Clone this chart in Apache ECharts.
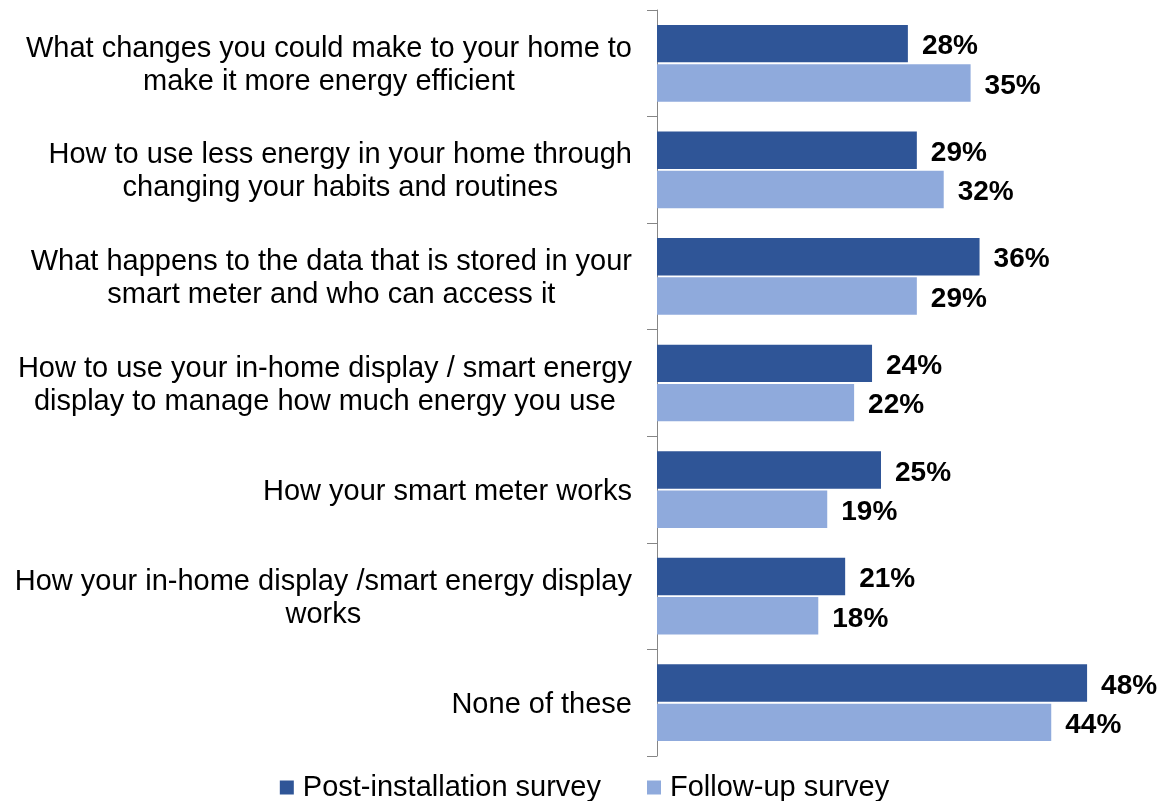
<!DOCTYPE html>
<html>
<head>
<meta charset="utf-8">
<script src="https://cdn.jsdelivr.net/npm/echarts@6/dist/echarts.min.js"></script>
<style>
  html, body { margin: 0; padding: 0; background: #ffffff; }
  #chart { width: 1169px; height: 801px; }
</style>
</head>
<body>
<div id="chart"></div>
<script>
// Topics respondents wanted more information about
const categories = [
  'What changes you could make to your home to\nmake it more energy efficient',
  'How to use less energy in your home through\nchanging your habits and routines',
  'What happens to the data that is stored in your\nsmart meter and who can access it',
  'How to use your in-home display / smart energy\ndisplay to manage how much energy you use',
  'How your smart meter works',
  'How your in-home display /smart energy display\nworks',
  'None of these'
];
const seriesNames = ['Post-installation survey', 'Follow-up survey'];
const postInstallation = [28, 29, 36, 24, 25, 21, 48];
const followUp = [35, 32, 29, 22, 19, 18, 44];

const FONT = '"Liberation Sans", Arial, sans-serif';
const DARK = '#2F5597';
const LIGHT = '#8FAADC';

const valueLabel = {
  show: true,
  position: 'right',
  distance: 14,
  offset: [0, 3],
  formatter: '{c}%',
  color: '#000000',
  fontFamily: FONT,
  fontWeight: 'bold',
  fontSize: 28
};

const chart = echarts.init(document.getElementById('chart'), null, { renderer: 'canvas' });
chart.setOption({
  animation: false,
  backgroundColor: '#ffffff',
  grid: { left: 657, right: 64, top: 10, bottom: 45, containLabel: false },
  legend: {
    data: seriesNames,
    bottom: -6,
    left: 'center',
    icon: 'rect',
    itemWidth: 14,
    itemHeight: 14,
    itemGap: 46,
    textStyle: { fontFamily: FONT, fontSize: 29, color: '#000000', padding: [0, 0, 0, 4] }
  },
  xAxis: {
    type: 'value',
    min: 0,
    max: 50,
    show: false
  },
  yAxis: {
    type: 'category',
    data: categories,
    inverse: true,
    axisLine: { show: true, lineStyle: { color: '#868686', width: 1 } },
    axisTick: { show: true, length: 10, lineStyle: { color: '#868686', width: 1 } },
    axisLabel: {
      margin: 25,
      padding: [4, 0, 0, 0],
      formatter: function (v) { return '{c|' + v + '}'; },
      rich: {
        c: { align: 'center', fontFamily: FONT, fontSize: 29, lineHeight: 33, color: '#000000' }
      }
    }
  },
  series: [
    {
      name: seriesNames[0],
      type: 'bar',
      data: postInstallation,
      barCategoryGap: '28%',
      barGap: '5%',
      itemStyle: { color: DARK },
      label: valueLabel
    },
    {
      name: seriesNames[1],
      type: 'bar',
      data: followUp,
      itemStyle: { color: LIGHT },
      label: valueLabel
    }
  ]
});
</script>
</body>
</html>
